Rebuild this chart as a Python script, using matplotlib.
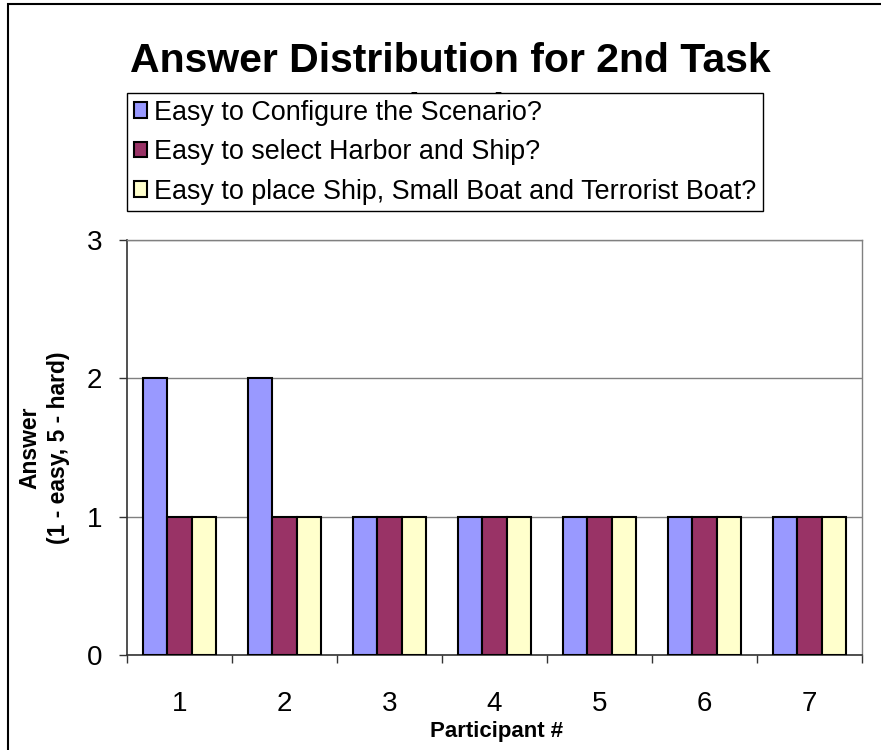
import matplotlib
matplotlib.use("Agg")
import matplotlib.pyplot as plt
import numpy as np
from matplotlib.patches import Rectangle

participants = ["1", "2", "3", "4", "5", "6", "7"]
configure = [2, 2, 1, 1, 1, 1, 1]
select_harbor = [1, 1, 1, 1, 1, 1, 1]
place_ship = [1, 1, 1, 1, 1, 1, 1]
series_names = ["Easy to Configure the Scenario?",
                "Easy to select Harbor and Ship?",
                "Easy to place Ship, Small Boat and Terrorist Boat?"]
colors = ["#9999FF", "#993366", "#FFFFCC"]
yticks = [0, 1, 2, 3]

plt.rcParams['font.family'] = ['Liberation Sans', 'DejaVu Sans']

W, H = 881, 750
fig = plt.figure(figsize=(W / 100, H / 100), dpi=100)
ax = fig.add_axes([127 / W, 1 - 655 / H, (862 - 127) / W, (655 - 240) / H])

x = np.arange(len(participants))
w = 0.229
for i, (vals, name, c) in enumerate(zip([configure, select_harbor, place_ship], series_names, colors)):
    ax.bar(x + (i - 1) * w, vals, width=w, color=c, edgecolor="black", linewidth=1.5,
           label=name, zorder=3)

ax.set_xlim(-0.5, len(participants) - 0.5)
ax.set_ylim(0, 3)
ax.set_yticks(yticks)
ax.set_yticklabels([str(v) for v in yticks], fontsize=20)
ax.set_xticks(x)
ax.set_xticklabels(participants, fontsize=20)
ax.set_xticks(np.arange(-0.5, len(participants), 1), minor=True)
ax.tick_params(axis="x", which="major", length=0, pad=26)
ax.tick_params(axis="x", which="minor", length=6, width=1, color="#333333")
ax.tick_params(axis="y", length=6, width=1, color="#333333", pad=12)
ax.yaxis.grid(True, color="#808080", linewidth=1, zorder=0)
for s in ["left", "bottom"]:
    ax.spines[s].set_color("#333333")
    ax.spines[s].set_linewidth(1.2)
for s in ["top", "right"]:
    ax.spines[s].set_color("#808080")
    ax.spines[s].set_linewidth(1)

fig.text(497 / W, 1 - 731 / H, "Participant #", ha="center", va="center",
         fontsize=16, fontweight="bold")
fig.text(44 / W, 1 - 448 / H, "Answer\n(1 - easy, 5 - hard)", ha="center", va="center",
         rotation=90, fontsize=16.5, fontweight="bold", linespacing=1.3)

fig.text(450 / W, 1 - 72 / H, "Answer Distribution for 2nd Task", ha="center", va="baseline",
         fontsize=29.5, fontweight="bold", zorder=1)
fig.text(450 / W, 1 - 122 / H, "subtasks", ha="center", va="baseline",
         fontsize=29.5, fontweight="bold", zorder=1)

leg = fig.legend(loc="upper left", bbox_to_anchor=(127 / W, 1 - 93 / H), bbox_transform=fig.transFigure,
                 fontsize=19.4, frameon=True, fancybox=False, edgecolor="black", framealpha=1,
                 handlelength=0.5, handleheight=0.5, handletextpad=0.25, labelspacing=0.5,
                 borderpad=0.25, borderaxespad=0)
leg.get_frame().set_linewidth(1)
leg.set_zorder(5)

fig.patches.append(Rectangle((8 / W, -0.1), 1.2, 1 - 4 / H + 0.1, transform=fig.transFigure,
                             fill=False, edgecolor="black", linewidth=1.5))

fig.savefig("out.png", dpi=100)
